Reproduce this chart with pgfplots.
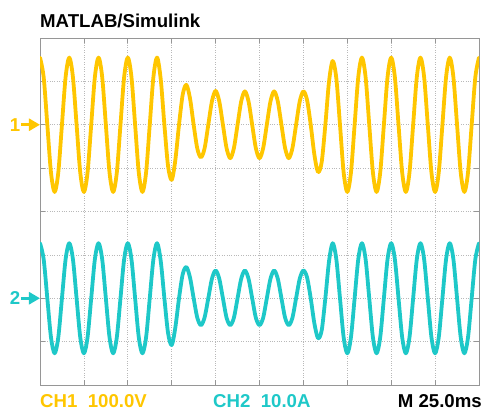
\documentclass[border=0pt]{standalone}
\usepackage{pgfplots}
\pgfplotsset{compat=1.18}
\usepackage{fontspec}
\setmainfont{Liberation Sans}
\usetikzlibrary{arrows.meta}
\definecolor{scy}{RGB}{255,198,0}
\definecolor{scc}{RGB}{30,200,200}
\definecolor{frm}{RGB}{150,150,150}
\definecolor{grd}{RGB}{185,185,185}
\begin{document}
\begin{tikzpicture}
\begin{axis}[
  at={(0,0)}, anchor=south west,
  scale only axis, width=439bp, height=347bp,
  xmin=0, xmax=120, ymin=-4, ymax=4,
  xtick={0,12,...,120}, ytick={-4,-3,...,4},
  xticklabels={}, yticklabels={},
  grid=major,
  grid style={dotted, color=grd, line width=0.7bp},
  axis line style={frm, line width=0.9bp},
  tick style={frm, line width=0.7bp},
  major tick length=5bp,
]
\addplot[scy, line width=3.8bp, smooth, line join=round, line cap=round] coordinates {
(0,3.55)(1,3.10)(2,2)(3,0.90)(4,0.45)(5,0.90)(6,2)(7,3.10)
(8,3.55)(9,3.10)(10,2)(11,0.90)(12,0.45)(13,0.90)(14,2)(15,3.10)
(16,3.55)(17,3.10)(18,2)(19,0.90)(20,0.45)(21,0.90)(22,2)(23,3.10)
(24,3.55)(25,3.10)(26,2)(27,0.90)(28,0.45)(29,0.90)(30,2)(31,3.10)
(32,3.55)(33,3.05)(34,2)(35,1.05)(36,0.73)(37,1.19)(38,2)(39,2.69)
(40,2.92)(41,2.61)(42,2)(43,1.45)(44,1.25)(45,1.46)(46,2)(47,2.54)
(48,2.78)(49,2.54)(50,2)(51,1.46)(52,1.23)(53,1.46)(54,2)(55,2.54)
(56,2.77)(57,2.54)(58,2)(59,1.46)(60,1.23)(61,1.46)(62,2)(63,2.54)
(64,2.77)(65,2.54)(66,2)(67,1.46)(68,1.23)(69,1.46)(70,2)(71,2.54)
(72,2.77)(73,2.57)(74,2)(75,1.31)(76,0.91)(77,1.14)(78,2)(79,2.99)
(80,3.47)(81,3.07)(82,2)(83,0.90)(84,0.45)(85,0.90)(86,2)(87,3.10)
(88,3.55)(89,3.10)(90,2)(91,0.90)(92,0.45)(93,0.90)(94,2)(95,3.10)
(96,3.55)(97,3.10)(98,2)(99,0.90)(100,0.45)(101,0.90)(102,2)(103,3.10)
(104,3.55)(105,3.10)(106,2)(107,0.90)(108,0.45)(109,0.90)(110,2)(111,3.10)
(112,3.55)(113,3.10)(114,2)(115,0.90)(116,0.45)(117,0.90)(118,2)(119,3.10)
(120,3.55)
};
\addplot[scc, line width=3.8bp, smooth, line join=round, line cap=round] coordinates {
(0,-0.73)(1,-1.10)(2,-2)(3,-2.90)(4,-3.27)(5,-2.90)(6,-2)(7,-1.10)
(8,-0.73)(9,-1.10)(10,-2)(11,-2.90)(12,-3.27)(13,-2.90)(14,-2)(15,-1.10)
(16,-0.73)(17,-1.10)(18,-2)(19,-2.90)(20,-3.27)(21,-2.90)(22,-2)(23,-1.10)
(24,-0.73)(25,-1.10)(26,-2)(27,-2.90)(28,-3.27)(29,-2.90)(30,-2)(31,-1.10)
(32,-0.73)(33,-1.14)(34,-2)(35,-2.80)(36,-3.08)(37,-2.67)(38,-2)(39,-1.45)
(40,-1.28)(41,-1.52)(42,-2)(43,-2.45)(44,-2.62)(45,-2.44)(46,-2)(47,-1.55)
(48,-1.36)(49,-1.55)(50,-2)(51,-2.45)(52,-2.62)(53,-2.45)(54,-2)(55,-1.55)
(56,-1.36)(57,-1.55)(58,-2)(59,-2.45)(60,-2.62)(61,-2.45)(62,-2)(63,-1.55)
(64,-1.36)(65,-1.55)(66,-2)(67,-2.45)(68,-2.62)(69,-2.45)(70,-2)(71,-1.55)
(72,-1.36)(73,-1.52)(74,-2)(75,-2.58)(76,-2.92)(77,-2.74)(78,-2)(79,-1.15)
(80,-0.73)(81,-1.10)(82,-2)(83,-2.90)(84,-3.27)(85,-2.90)(86,-2)(87,-1.10)
(88,-0.73)(89,-1.10)(90,-2)(91,-2.90)(92,-3.27)(93,-2.90)(94,-2)(95,-1.10)
(96,-0.73)(97,-1.10)(98,-2)(99,-2.90)(100,-3.27)(101,-2.90)(102,-2)(103,-1.10)
(104,-0.73)(105,-1.10)(106,-2)(107,-2.90)(108,-3.27)(109,-2.90)(110,-2)(111,-1.10)
(112,-0.73)(113,-1.10)(114,-2)(115,-2.90)(116,-3.27)(117,-2.90)(118,-2)(119,-1.10)
(120,-0.73)
};
\coordinate (m1) at (axis cs:0,2);
\coordinate (m2) at (axis cs:0,-2);
\end{axis}
% channel markers
\draw[scy, line width=2.6bp, -{Triangle[length=11bp,width=12bp]}] ([xshift=-19bp]m1) -- (m1);
\node[scy, anchor=east, inner sep=0pt, font=\fontsize{18.7}{20}\selectfont\bfseries] at ([xshift=-19.5bp]m1) {1};
\draw[scc, line width=2.6bp, -{Triangle[length=11bp,width=12bp]}] ([xshift=-19bp]m2) -- (m2);
\node[scc, anchor=east, inner sep=0pt, font=\fontsize{18.7}{20}\selectfont\bfseries] at ([xshift=-19.5bp]m2) {2};
% title and footer
\node[anchor=base west, inner sep=0pt, font=\fontsize{18.7}{20}\selectfont\bfseries] at (0bp,357bp) {MATLAB/Simulink};
\node[scy, anchor=base west, inner sep=0pt, font=\fontsize{18.7}{20}\selectfont\bfseries] at (0bp,-22bp) {CH1\ \ 100.0V};
\node[scc, anchor=base west, inner sep=0pt, font=\fontsize{18.7}{20}\selectfont\bfseries] at (173bp,-22bp) {CH2\ \ 10.0A};
\node[anchor=base east, inner sep=0pt, font=\fontsize{18.7}{20}\selectfont\bfseries] at (442bp,-22bp) {M 25.0ms};
\pgfresetboundingbox
\useasboundingbox (-40bp,-25bp) rectangle (444bp,385bp);
\end{tikzpicture}
\end{document}
